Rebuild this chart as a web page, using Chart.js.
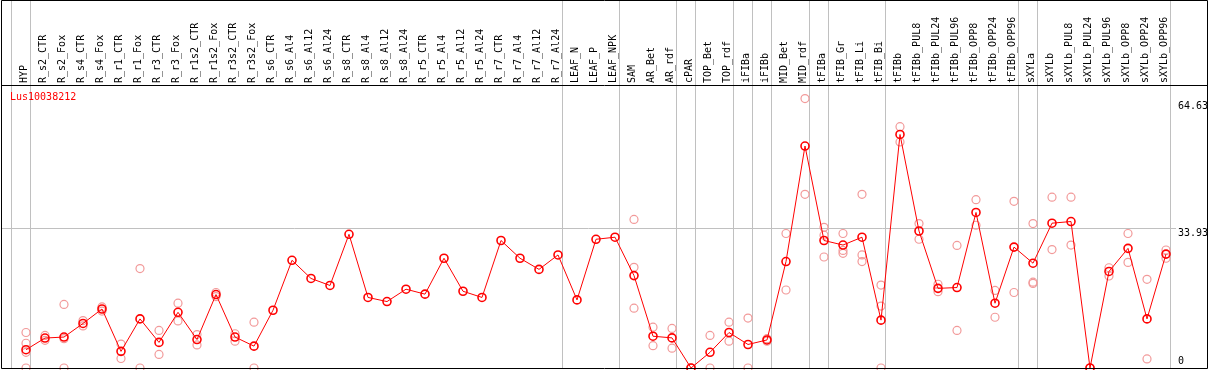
<!DOCTYPE html>
<html>
<head>
<meta charset="utf-8">
<script src="https://cdn.jsdelivr.net/npm/chart.js@4.4.1/dist/chart.umd.min.js"></script>
<style>
  html, body { margin: 0; padding: 0; background: #fff; }
  canvas { display: block; }
</style>
</head>
<body>
<canvas id="chart" width="1209" height="370"></canvas>
<script>
const geneName = 'Lus10038212';

const categories = [
    'HYP', 'R_s2_CTR', 'R_s2_Fox', 'R_s4_CTR', 'R_s4_Fox', 'R_r1_CTR', 'R_r1_Fox', 'R_r3_CTR', 'R_r3_Fox',
    'R_r1s2_CTR', 'R_r1s2_Fox', 'R_r3s2_CTR', 'R_r3s2_Fox', 'R_s6_CTR', 'R_s6_Al4', 'R_s6_Al12', 'R_s6_Al24',
    'R_s8_CTR', 'R_s8_Al4', 'R_s8_Al12', 'R_s8_Al24', 'R_r5_CTR', 'R_r5_Al4', 'R_r5_Al12', 'R_r5_Al24',
    'R_r7_CTR', 'R_r7_Al4', 'R_r7_Al12', 'R_r7_Al24', 'LEAF_N', 'LEAF_P', 'LEAF_NPK', 'SAM', 'AR_Bet', 'AR_rdf',
    'cPAR', 'TOP_Bet', 'TOP_rdf', 'iFIBa', 'iFIBb', 'MID_Bet', 'MID_rdf', 'tFIBa', 'tFIB_Gr', 'tFIB_Li', 'tFIB_Bi',
    'tFIBb', 'tFIBb_PUL8', 'tFIBb_PUL24', 'tFIBb_PUL96', 'tFIBb_OPP8', 'tFIBb_OPP24', 'tFIBb_OPP96',
    'sXYLa', 'sXYLb', 'sXYLb_PUL8', 'sXYLb_PUL24', 'sXYLb_PUL96', 'sXYLb_OPP8', 'sXYLb_OPP24', 'sXYLb_OPP96'
];

// mean expression (red line)
const meanValues = [
    4.43, 7.26, 7.5, 10.8, 14.3, 4.03, 11.9, 6.2, 13.5, 6.9, 17.8, 7.5, 5.3,
    14.0, 26.1, 21.7, 20.0, 32.4, 17.1, 16.1, 19.1, 17.9, 26.6, 18.6, 17.1, 30.9, 26.6, 23.9, 27.4,
    16.5, 31.2, 31.7, 22.4, 7.7, 7.3, 0, 3.8, 8.6, 5.7, 6.8, 25.8, 53.8,
    30.9, 29.8, 31.7, 11.6, 56.6, 33.2, 19.3, 19.5, 37.7, 15.7, 29.3,
    25.4, 35.1, 35.5, 0, 23.4, 29.0, 11.9, 27.6
];

// single replicates (pale circles)
const rep1 = [
    8.6, 7.9, 15.4, 11.5, 14.8, 5.8, 24.1, 9.1, 15.7, 8.1, 18.3, 8.3, 11.1,
    null, null, null, null, null, null, null, null, null, null, null, null, null, null, null, null,
    null, null, null, 36.0, 9.9, 9.6, 0, 7.9, 11.1, 12.1, 7.1, 32.6, 65.3,
    34.1, 32.6, 42.1, 20.1, 58.5, 35.0, 20.3, 29.7, 40.8, 18.8, 40.4,
    35.0, 41.4, 41.4, 0, 24.3, 32.6, 21.5, 28.6
];
const rep2 = [
    6.0, 6.7, 0, 10.2, 13.8, 2.3, 0, 3.3, 11.4, 5.6, 17.3, 6.5, 0,
    null, null, null, null, null, null, null, null, null, null, null, null, null, null, null, null,
    null, null, null, 24.4, 5.4, 4.8, 0, 0, 6.5, 0, 6.5, 18.9, 42.1,
    32.2, 28.5, 27.4, 15.0, 54.8, 31.2, 18.5, 9.1, 34.6, 12.3, 18.3,
    20.8, 28.7, 29.8, 0, 22.3, 25.6, 2.2, 26.6
];
const rep3 = [
    3.8, null, 7.1, null, null, null, null, null, null, null, null, null, null,
    null, null, null, null, null, null, null, null, null, null, null, null, null, null, null, null,
    null, null, null, 14.5, null, null, null, null, null, null, null, null, null,
    26.9, 27.8, 25.8, 0, null, null, null, null, null, null, null,
    20.5, null, null, null, null, null, null, null
];
const rep4 = [
    0, null, null, null, null, null, null, null, null, null, null, null, null,
    null, null, null, null, null, null, null, null, null, null, null, null, null, null, null, null,
    null, null, null, null, null, null, null, null, null, null, null, null, null,
    null, null, null, null, null, null, null, null, null, null, null,
    null, null, null, null, null, null, null, null
];

const yTicks = [0, 33.93, 64.63];
const yMax = 68.59;

// index of the last category of each group (-1 = left edge)
const groupEnds = [-1, 0, 28, 31, 34, 35, 37, 38, 39, 41, 42, 45, 52, 53, 60];

const FONT = '"DejaVu Sans Mono", monospace';
Chart.defaults.font.family = FONT;
Chart.defaults.font.size = 10;
Chart.defaults.color = '#000';

// x in category units: 19px per category, first point at x=26
const xMin = (1 - 26) / 19;
const xMax = (1176 - 26) / 19;

const toPoints = arr => arr.map((v, i) => (v === null ? null : { x: i, y: v })).filter(p => p);
const repPoints = [].concat(toPoints(rep1), toPoints(rep2), toPoints(rep3), toPoints(rep4));

// axes must not add label overhang padding to the layout
const noPad = s => { s.paddingLeft = 0; s.paddingRight = 0; s.paddingTop = 0; s.paddingBottom = 0; };

const frame = {
    id: 'frame',
    afterDraw(chart) {
        const { ctx, chartArea: a } = chart;
        const right = chart.width - 1.5;
        ctx.save();
        ctx.strokeStyle = '#000';
        ctx.lineWidth = 1;
        ctx.beginPath();
        ctx.moveTo(a.left + 0.5, 0.5);
        ctx.lineTo(right, 0.5);
        ctx.lineTo(right, a.bottom + 0.5);
        ctx.lineTo(a.left + 0.5, a.bottom + 0.5);
        ctx.closePath();
        ctx.moveTo(a.left + 0.5, a.top + 0.5);
        ctx.lineTo(right, a.top + 0.5);
        ctx.stroke();

        ctx.fillStyle = '#ff0000';
        ctx.font = '10px ' + FONT;
        ctx.textBaseline = 'middle';
        ctx.textAlign = 'left';
        ctx.fillText(geneName, a.left + 9, a.top + 12);
        ctx.restore();
    }
};

new Chart(document.getElementById('chart'), {
    type: 'line',
    data: {
        datasets: [
            {
                label: 'mean',
                data: meanValues.map((v, i) => ({ x: i, y: v })),
                borderColor: '#ff0000',
                borderWidth: 1,
                tension: 0,
                pointRadius: 4,
                pointBorderWidth: 1.6,
                pointBorderColor: '#ff0000',
                pointBackgroundColor: 'rgba(0,0,0,0)',
                clip: false,
                order: 0
            },
            {
                label: 'replicates',
                data: repPoints,
                showLine: false,
                pointRadius: 4,
                pointBorderWidth: 1.2,
                pointBorderColor: '#f29a9a',
                pointBackgroundColor: 'rgba(0,0,0,0)',
                clip: false,
                order: 1
            }
        ]
    },
    options: {
        responsive: false,
        animation: false,
        devicePixelRatio: 1,
        layout: { autoPadding: false, padding: { left: 1, right: 0, top: 0, bottom: 2 } },
        plugins: {
            legend: { display: false },
            tooltip: { enabled: false }
        },
        scales: {
            x: {
                type: 'linear',
                position: 'top',
                weight: 1,
                min: xMin,
                max: xMax,
                afterBuildTicks: s => { s.ticks = categories.map((c, i) => ({ value: i })); },
                afterFit: s => { s.height = 85; noPad(s); },
                grid: { display: false, drawTicks: false },
                border: { display: false },
                ticks: {
                    autoSkip: false,
                    minRotation: 90,
                    maxRotation: 90,
                    padding: 2,
                    labelOffset: 10,
                    callback: v => categories[v]
                }
            },
            xb: {
                type: 'linear',
                position: 'top',
                weight: 0,
                min: xMin,
                max: xMax,
                afterBuildTicks: s => { s.ticks = groupEnds.map(g => ({ value: g + 0.24 })); },
                afterFit: s => { s.height = 0; noPad(s); },
                grid: { color: '#c0c0c0', lineWidth: 1, drawTicks: true, tickLength: 85 },
                border: { display: false },
                ticks: { display: false }
            },
            y: {
                position: 'right',
                min: 0,
                max: yMax,
                afterBuildTicks: s => { s.ticks = yTicks.map(v => ({ value: v })); },
                afterFit: s => { s.width = 33; noPad(s); },
                grid: {
                    drawTicks: false,
                    color: c => (c.tick && c.tick.value === 33.93 ? '#c0c0c0' : 'rgba(0,0,0,0)')
                },
                border: { display: false },
                ticks: {
                    padding: 2,
                    labelOffset: 5,
                    callback: v => (v === 0 ? ['0', '', ''] : String(v))
                }
            }
        }
    },
    plugins: [frame]
});
</script>
</body>
</html>
